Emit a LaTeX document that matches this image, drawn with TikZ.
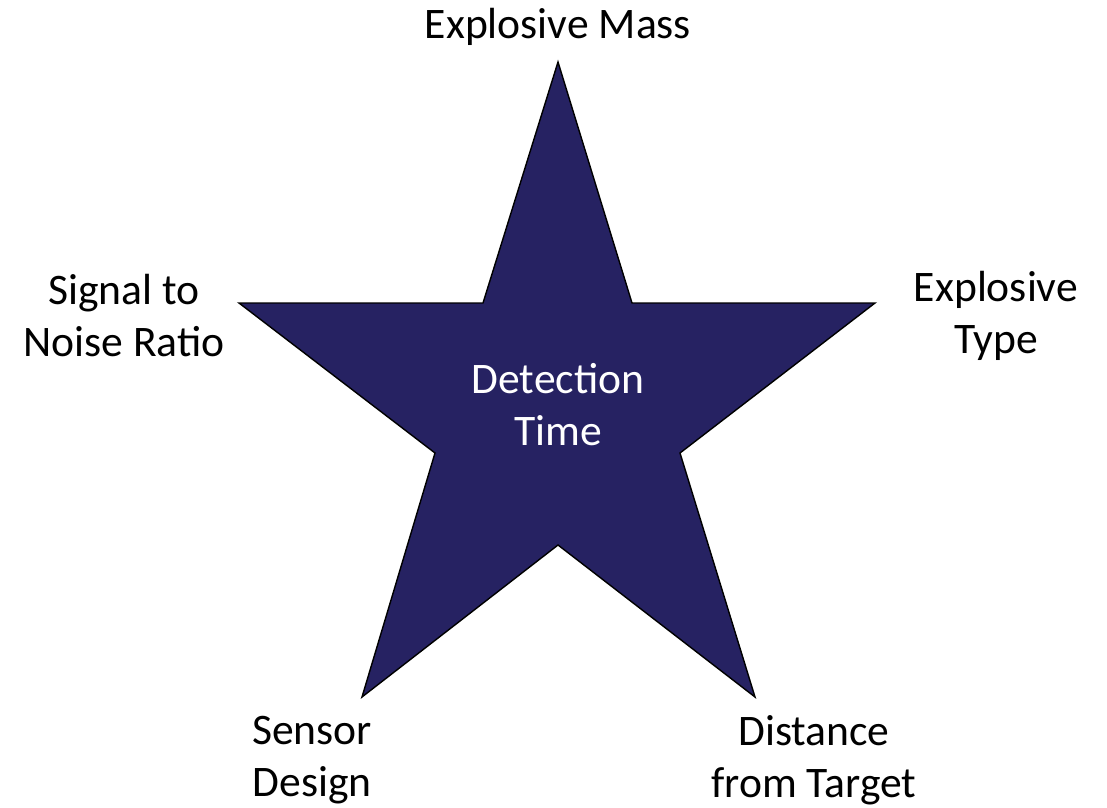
\documentclass[tikz,border=0pt]{standalone}
\usepackage{fontspec}
\setmainfont{Carlito}
\definecolor{starNavy}{HTML}{262262}

\begin{document}
\begin{tikzpicture}[
    x=0.025cm, y=-0.025cm,
    % Styles
    starShape/.style={draw=black, fill=starNavy, line width=1pt, line join=miter},
    factor/.style={font=\fontsize{31}{37}\selectfont, align=center, text=black, inner sep=0pt},
    core/.style={factor, text=white}
]

\useasboundingbox (0,0) rectangle (1107,808);

% star outline
\coordinate (tipTop) at (558,62);
\coordinate (inTL) at (483,303);
\coordinate (tipLeft) at (239,303);
\coordinate (inL) at (435,453);
\coordinate (tipBL) at (362,697);
\coordinate (inB) at (558,545);
\coordinate (tipBR) at (755,697);
\coordinate (inR) at (680,453);
\coordinate (tipRight) at (875,303);
\coordinate (inTR) at (632,303);

\draw[starShape] (tipTop) -- (inTR) -- (tipRight) -- (inR) -- (tipBR) -- (inB)
    -- (tipBL) -- (inL) -- (tipLeft) -- (inTL) -- cycle;

% centre
\node[core] (detTime) at (558,405) {Detection\\Time};

% factors
\node[factor] (expMass) at (558,27) {Explosive Mass};
\node[factor] (snr) at (124,316) {Signal to\\Noise Ratio};
\node[factor] (expType) at (996,316) {Explosive\\Type};
\node[factor] (sensor) at (312,760) {Sensor\\Design};
\node[factor] (distance) at (814,760) {Distance\\from Target};

\end{tikzpicture}
\end{document}
